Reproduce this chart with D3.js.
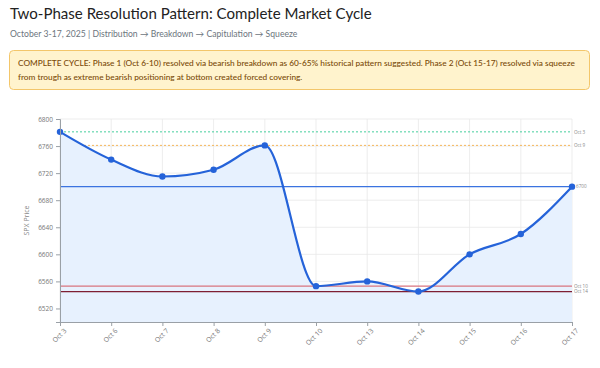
<!DOCTYPE html>
<html>
<head>
<meta charset="utf-8">
<script src="https://cdn.jsdelivr.net/npm/d3@7"></script>
<style>
  body { margin: 0; background: #fff; }
  svg { display: block; font-family: "Open Sans", "Noto Sans", sans-serif; }
</style>
</head>
<body>
<div id="chart"></div>
<script>
// chart data
var dates = ["Oct 3", "Oct 6", "Oct 7", "Oct 8", "Oct 9", "Oct 10", "Oct 13", "Oct 14", "Oct 15", "Oct 16", "Oct 17"];
var prices = [6781, 6740, 6715, 6725, 6761, 6553, 6560, 6545, 6600, 6630, 6700];
var yTicks = [6520, 6560, 6600, 6640, 6680, 6720, 6760, 6800];
// reference levels
var refLabels = ["Oct 3", "Oct 9", "6700", "Oct 10", "Oct 14"];
var refValues = [6781, 6761, 6700, 6553, 6545];

var title = "Two-Phase Resolution Pattern: Complete Market Cycle";
var subtitle = "October 3-17, 2025 | Distribution \u2192 Breakdown \u2192 Capitulation \u2192 Squeeze";
var note = [
  "COMPLETE CYCLE: Phase 1 (Oct 6-10) resolved via bearish breakdown as 60-65% historical pattern suggested. Phase 2 (Oct 15-17) resolved via squeeze",
  "from trough as extreme bearish positioning at bottom created forced covering."
];

var svgWidth = 600, svgHeight = 368;
var margin = { top: 119, right: 28, bottom: 46, left: 60 };
var width = svgWidth - margin.left - margin.right;
var height = svgHeight - margin.top - margin.bottom;

var svg = d3.select("#chart").append("svg")
  .attr("width", svgWidth)
  .attr("height", svgHeight);

// fit a text's font size so it spans a given width
function fitText(sel, base, target) {
  sel.attr("font-size", base);
  var w = sel.node().getComputedTextLength();
  sel.attr("font-size", base * target / w);
}

// header
var t1 = svg.append("text").attr("x", 10).attr("y", 19)
  .attr("fill", "#222").attr("font-family", "Lato, Open Sans, sans-serif").text(title);
fitText(t1, 16, 362);
var t2 = svg.append("text").attr("x", 10).attr("y", 37)
  .attr("fill", "#6c757d").attr("font-family", "Lato, Open Sans, sans-serif").text(subtitle);
fitText(t2, 9, 288);

svg.append("rect").attr("x", 9.5).attr("y", 50.5).attr("width", 580).attr("height", 39)
  .attr("rx", 4).attr("fill", "#fff3cd").attr("stroke", "#f3c66a");
var noteSize = null;
note.forEach(function (line, i) {
  var t = svg.append("text").attr("x", 18).attr("y", 66 + i * 14)
    .attr("fill", "#7a4a08").attr("font-family", "Lato, Open Sans, sans-serif")
    .attr("font-weight", 500).text(line);
  if (i === 0) {
    fitText(t, 8, 558);
    noteSize = +t.attr("font-size");
  } else {
    t.attr("font-size", noteSize);
  }
});

var g = svg.append("g").attr("transform", `translate(${margin.left}, ${margin.top})`);

// scales
var x = d3.scalePoint().domain(dates).range([0, width]);
var y = d3.scaleLinear().domain([6500, 6800]).range([height, 0]);

// grid
g.append("g").selectAll("line").data(yTicks).join("line")
  .attr("x1", 0).attr("x2", width)
  .attr("y1", d => y(d)).attr("y2", d => y(d))
  .attr("stroke", "#e9e9e9").attr("stroke-width", 0.8);
g.append("g").selectAll("line").data(dates).join("line")
  .attr("x1", d => x(d)).attr("x2", d => x(d))
  .attr("y1", 0).attr("y2", height)
  .attr("stroke", "#e9e9e9").attr("stroke-width", 0.8);

// dotted reference lines (under the fill)
var dotted = [{ v: refValues[0], c: "#46cf9d" }, { v: refValues[1], c: "#f5b75a" }];
g.append("g").selectAll("line").data(dotted).join("line")
  .attr("x1", 0).attr("x2", width)
  .attr("y1", d => y(d.v)).attr("y2", d => y(d.v))
  .attr("stroke", d => d.c).attr("stroke-width", 1)
  .attr("stroke-dasharray", "2,2");

// area + line
var curve = d3.curveMonotoneX;
var area = d3.area().x((d, i) => x(dates[i])).y0(height).y1(d => y(d)).curve(curve);
var line = d3.line().x((d, i) => x(dates[i])).y(d => y(d)).curve(curve);

g.append("path").datum(prices).attr("d", area).attr("fill", "#e7f1fe");

// solid reference lines
var solid = [
  { v: refValues[2], c: "#3b73e0", w: 1.3 },
  { v: refValues[3], c: "#d9747f", w: 1.3 },
  { v: refValues[4], c: "#7e1f33", w: 1.3 }
];
g.append("g").selectAll("line").data(solid).join("line")
  .attr("x1", 0).attr("x2", width)
  .attr("y1", d => y(d.v)).attr("y2", d => y(d.v))
  .attr("stroke", d => d.c).attr("stroke-width", d => d.w);

g.append("path").datum(prices).attr("d", line)
  .attr("fill", "none").attr("stroke", "#2563d9").attr("stroke-width", 2.2);

g.append("g").selectAll("circle").data(prices).join("circle")
  .attr("cx", (d, i) => x(dates[i])).attr("cy", d => y(d))
  .attr("r", 3.2).attr("fill", "#2563d9");

// axes
var yAxis = g.append("g").call(d3.axisLeft(y).tickValues(yTicks).tickSize(4).tickFormat(d3.format("d")));
var xAxis = g.append("g").attr("transform", `translate(0, ${height})`)
  .call(d3.axisBottom(x).tickSize(4));
[yAxis, xAxis].forEach(function (a) {
  a.select(".domain").attr("stroke", "#9aa0a6");
  a.selectAll(".tick line").attr("stroke", "#9aa0a6");
  a.selectAll("text").attr("fill", "#777").attr("font-size", 6.5).attr("font-family", "Open Sans, sans-serif");
});
xAxis.selectAll("text")
  .attr("font-size", 6.8)
  .attr("text-anchor", "end")
  .attr("dx", "-0.3em").attr("dy", "0.6em")
  .attr("transform", "rotate(-45)");

// y label
svg.append("text")
  .attr("transform", `translate(29, ${margin.top + height / 2}) rotate(-90)`)
  .attr("text-anchor", "middle").attr("font-size", 7)
  .attr("fill", "#888").text("SPX Price");

// right labels, clipped at the panel edge
svg.append("clipPath").attr("id", "rclip")
  .append("rect").attr("x", 0).attr("y", 0).attr("width", 589).attr("height", svgHeight);
svg.append("g").attr("clip-path", "url(#rclip)")
  .selectAll("text").data(refLabels).join("text")
  .attr("x", (d, i) => margin.left + width + (i === 2 ? 4 : 2))
  .attr("y", (d, i) => margin.top + y(refValues[i]) + 1.8)
  .attr("font-size", 4.6).attr("fill", "#888")
  .text(d => d);
</script>
</body>
</html>
